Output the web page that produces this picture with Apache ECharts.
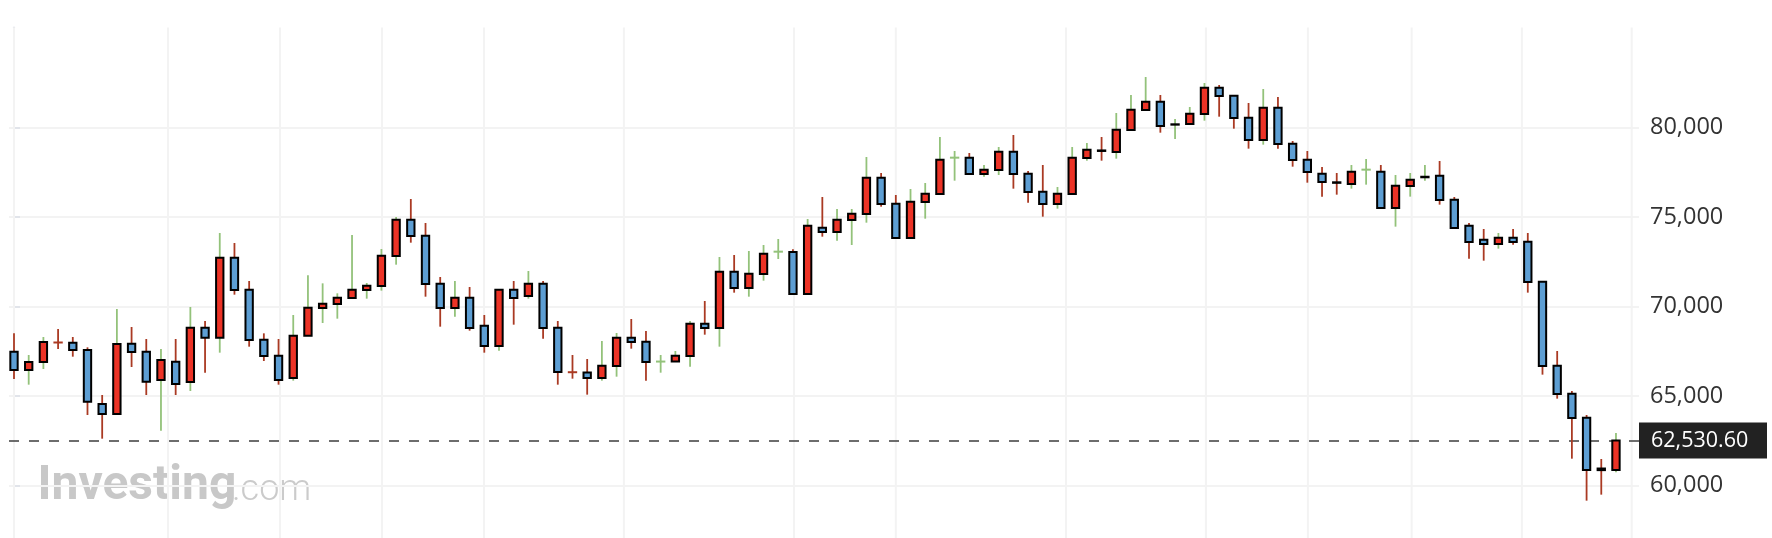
<!DOCTYPE html>
<html>
<head>
<meta charset="utf-8">
<script src="https://cdn.jsdelivr.net/npm/echarts@6/dist/echarts.min.js"></script>
<style>
html,body{margin:0;padding:0;background:#ffffff;}
#chart{width:1772px;height:538px;}
</style>
</head>
<body>
<div id="chart"></div>
<script>
// ---- data (one candle per session, oldest first) ----
const openPrices = [
  67488,66463,66910,68000,67990,67581,64564,64005,67935,67488,
  65905,66929,65793,68828,68270,72739,70951,68158,67264,66017,
  68382,69927,70151,70486,70933,71156,72832,74862,73968,71287,
  69928,70504,68940,67804,70952,70598,71280,68829,66340,66330,
  66016,66687,68270,68046,66935,66935,67246,69052,68810,71957,
  71045,71827,73074,73060,70709,74415,74173,74843,75179,77208,
  75756,73838,75849,76296,78326,78320,77413,77637,78661,77432,
  76426,75737,76296,78307,78730,78642,79872,80989,81454,80190,
  80208,80765,82236,81789,80560,79313,81119,79108,78214,77432,
  76950,76855,77656,77544,75514,76744,77230,77321,75980,74528,
  73745,73503,73850,73634,71399,66707,65142,63801,60960,60880
];
const highPrices = [
  68512,67302,68307,68754,68307,67730,65067,69871,68866,68195,
  67637,68195,69983,69201,74117,73559,71436,68512,68195,69536,
  71752,71305,70747,74005,71324,73223,75011,76017,74676,71659,
  71436,71100,69536,70960,71436,71994,71436,69201,67301,67078,
  68084,68531,69313,68642,67301,67525,69201,70318,72777,72888,
  73112,73447,73782,73205,74899,76128,75458,75458,78363,77469,
  76240,76575,76910,79480,78698,78587,77916,78922,79592,77581,
  77916,76687,78922,79145,79480,80821,81827,82832,81827,80486,
  81157,82497,82385,81800,81380,82162,81715,79257,78698,77804,
  77470,77917,78252,77917,77358,77470,77917,78140,76129,74676,
  74341,74118,74341,74118,71410,67526,65291,63950,61492,62945
];
const lowPrices = [
  65961,65644,66519,67637,67208,63950,62627,63990,66631,65067,
  63074,65067,65290,66315,67432,70672,67767,66966,65644,65868,
  68380,69089,69331,70480,70449,70896,72348,73577,70560,68884,
  69443,68661,67432,67544,68996,70449,68214,65644,65979,65086,
  65868,66091,67655,65868,66314,66930,66650,68437,67767,70784,
  70560,71454,72665,70700,70700,73912,73689,73447,74694,75588,
  73830,73830,74918,76290,77041,77400,77264,77357,76594,75812,
  75030,75477,76290,78158,78158,78270,79870,80985,79722,79369,
  80200,80393,80616,79946,78829,79052,78829,77823,76929,76147,
  76259,76595,76818,75510,74472,76148,77041,75701,74390,72684,
  72572,73243,73466,70785,66204,64863,61510,59164,59500,60747
];
const closePrices = [
  66463,66910,68028,68000,67581,64694,64005,67916,67469,65812,
  67022,65681,68828,68270,72739,70933,68139,67246,65905,68382,
  69946,70169,70504,70952,71175,72851,74862,73950,71268,69928,
  70504,68810,67804,70952,70486,71287,68810,66352,66340,66016,
  66706,68270,68028,66910,66935,67264,69052,68810,71957,71045,
  71845,72963,73074,70709,74527,74173,74862,75197,77208,75737,
  73838,75868,76315,78214,78326,77413,77655,78661,77413,76408,
  75737,76315,78326,78773,78700,79890,81008,81454,80095,80170,
  80784,82236,81771,80542,79313,81119,79089,78195,77525,76966,
  76920,77544,77656,75514,76762,77097,77260,75961,74397,73615,
  73503,73857,73615,71380,66688,65124,63783,60878,60870,62530.60
];
// price-axis ticks and the session positions of the faint vertical grid lines
const priceTicks = [55000, 60000, 65000, 70000, 75000, 80000];
const verticalGridAt = [0, 10.48, 18.1, 25.04, 31.98, 41.5, 53.07, 60.0, 71.58, 81.1, 88.04, 95.1, 102.6, 110.07];

// ---- styles ----
const UP_FILL = '#ec3326';
const DOWN_FILL = '#5d9ed3';
const WICK_UP = '#93c27a';
const WICK_DOWN = '#aa3a23';
const GRID_COLOR = '#f3f3f3';
const AXIS_COLOR = '#e1e4ea';

const lastPrice = closePrices[closePrices.length - 1];
const candleData = closePrices.map((c, i) => [
  i, openPrices[i], c, lowPrices[i], highPrices[i],
  i > 0 ? closePrices[i - 1] : openPrices[i]
]);

function renderCandle(params, api) {
  const i = api.value(0);
  const o = api.value(1), c = api.value(2), l = api.value(3), h = api.value(4), pc = api.value(5);
  const band = api.size([1, 0])[0];
  const bw = band * 0.5;
  const pH = api.coord([i, h]);
  const pL = api.coord([i, l]);
  const pO = api.coord([i, o]);
  const pC = api.coord([i, c]);
  const x = pH[0];
  const wick = (c > pc) ? WICK_UP : WICK_DOWN;
  const children = [{
    type: 'line',
    shape: { x1: x, y1: pH[1], x2: x, y2: pL[1] },
    style: { stroke: wick, lineWidth: 1.8 }
  }];
  if (o === c) {
    children.push({
      type: 'line',
      shape: { x1: x - bw / 2 - 1, y1: pO[1], x2: x + bw / 2 + 1, y2: pO[1] },
      style: { stroke: wick, lineWidth: 2 }
    });
  } else {
    const top = Math.min(pO[1], pC[1]);
    const bot = Math.max(pO[1], pC[1]);
    children.push({
      type: 'rect',
      shape: { x: x - bw / 2, y: top, width: bw, height: bot - top },
      style: { fill: c > o ? UP_FILL : DOWN_FILL, stroke: '#000000', lineWidth: 2 }
    });
  }
  return { type: 'group', children: children };
}

function renderVGrid(params, api) {
  const p = api.coord([api.value(0), api.value(1)]);
  const cs = params.coordSys;
  return {
    type: 'line',
    shape: { x1: p[0], y1: cs.y, x2: p[0], y2: cs.y + cs.height },
    style: { stroke: GRID_COLOR, lineWidth: 2 }
  };
}

// layout: 60,000 at y=485.7, 80,000 at y=127.7
const PX_PER_UNIT = (485.7 - 127.7) / 20000;
const PLOT_TOP = 27.5;
const yMin = priceTicks[0];
const yMax = 80000 + (127.7 - PLOT_TOP) / PX_PER_UNIT;
const bottomY = 485.7 + (60000 - yMin) * PX_PER_UNIT;

const PLOT_LEFT = 9, PLOT_RIGHT = 1639;
const STEP = 14.697, FIRST_X = 14;
const xMin = (PLOT_LEFT - FIRST_X) / STEP;
const xMax = (PLOT_RIGHT - FIRST_X) / STEP;

const chart = echarts.init(document.getElementById('chart'), null, { renderer: 'canvas' });
chart.setOption({
  animation: false,
  backgroundColor: '#ffffff',
  grid: {
    left: PLOT_LEFT, right: 1772 - PLOT_RIGHT, top: PLOT_TOP, bottom: 538 - bottomY,
    containLabel: false, outerBoundsMode: 'none'
  },
  xAxis: {
    type: 'value', min: xMin, max: xMax, show: false,
    splitLine: { show: false }
  },
  yAxis: {
    type: 'value', position: 'right', min: yMin, max: yMax, interval: 5000,
    axisLine: { show: true, lineStyle: { color: AXIS_COLOR, width: 2 } },
    axisTick: { show: true, length: 6, customValues: priceTicks, lineStyle: { color: AXIS_COLOR, width: 2 } },
    axisLabel: {
      show: true, color: '#333333', fontSize: 23.5, fontFamily: 'Open Sans',
      margin: 11, showMaxLabel: true, showMinLabel: false, customValues: priceTicks,
      formatter: v => v.toLocaleString('en-US')
    },
    splitLine: { show: true, showMaxLine: true, showMinLine: true, lineStyle: { color: GRID_COLOR, width: 2 } }
  },
  series: [
    {
      type: 'custom',
      name: 'grid',
      z: 1,
      silent: true,
      renderItem: renderVGrid,
      encode: { x: 0, y: 1 },
      data: verticalGridAt.map(v => [v, 60000]),
      markLine: {
        silent: true,
        symbol: ['none', 'none'],
        animation: false,
        lineStyle: { color: '#4a4a4a', width: 1.6, type: [10, 10] },
        label: {
          show: true, position: 'end', distance: 0,
          formatter: () => lastPrice.toLocaleString('en-US', { minimumFractionDigits: 2, maximumFractionDigits: 2 }),
          color: '#ffffff', backgroundColor: '#222222',
          fontSize: 21.5, fontFamily: 'Open Sans', lineHeight: 22,
          padding: [7, 12, 7, 12], width: 104, align: 'left'
        },
        emphasis: { disabled: true },
        data: [{ yAxis: lastPrice }]
      }
    },
    {
      type: 'custom',
      name: 'price',
      z: 10,
      renderItem: renderCandle,
      encode: { x: 0, y: [1, 2, 3, 4] },
      data: candleData
    }
  ],
  graphic: [
    {
      type: 'text', x: 37.5, y: 487.3, silent: true,
      style: { text: 'Investing', font: 'bold 48px Roboto', fill: '#c8c8c8', verticalAlign: 'middle', align: 'left' }
    },
    {
      type: 'text', x: 232, y: 491.1, silent: true,
      style: { text: '.com', font: '300 36px Roboto', fill: '#cbcbcb', verticalAlign: 'middle', align: 'left' }
    }
  ]
});
</script>
</body>
</html>
